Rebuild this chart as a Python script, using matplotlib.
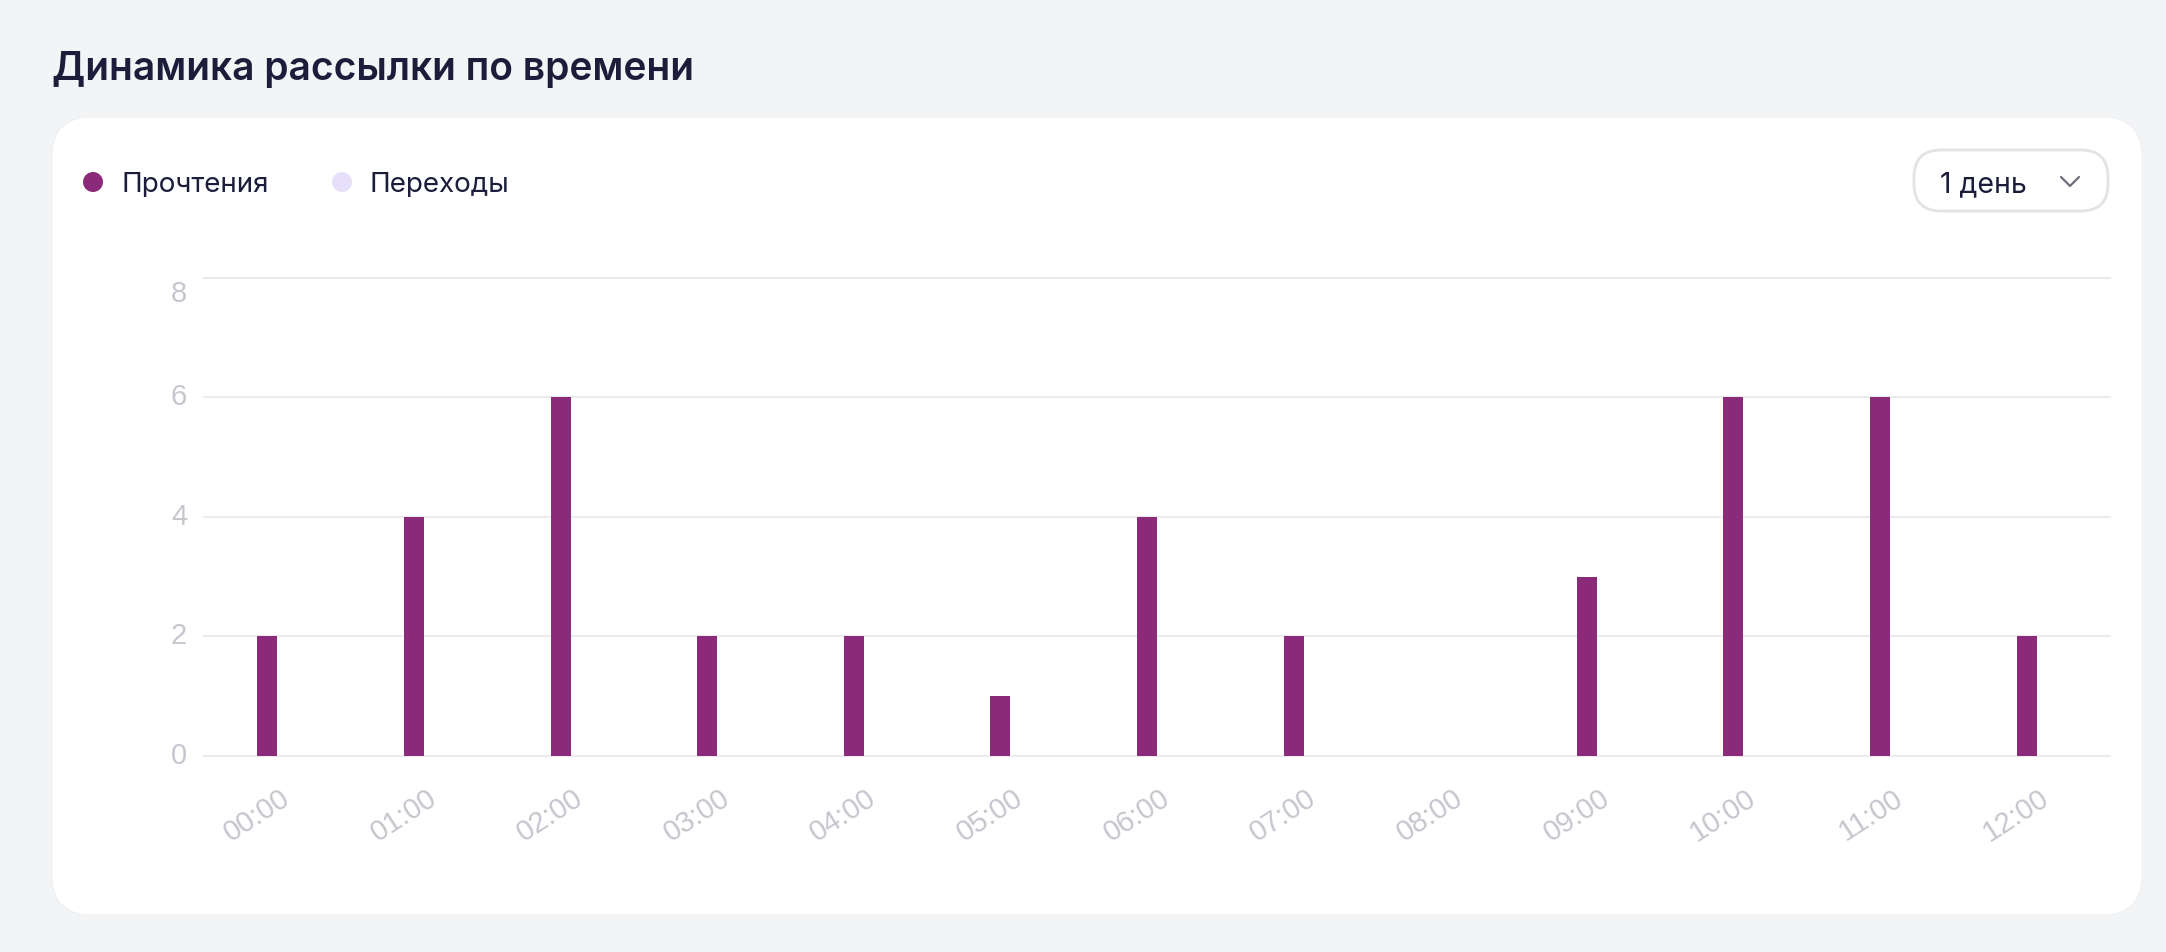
import matplotlib
matplotlib.use("Agg")
import matplotlib.pyplot as plt
from matplotlib.patches import FancyBboxPatch, Circle
from matplotlib.transforms import ScaledTranslation, blended_transform_factory
import numpy as np

# ---------------- data ----------------
title = "Динамика рассылки по времени"
categories = ["00:00", "01:00", "02:00", "03:00", "04:00", "05:00", "06:00",
              "07:00", "08:00", "09:00", "10:00", "11:00", "12:00"]
reads = [2, 4, 6, 2, 2, 1, 4, 2, 0, 3, 6, 6, 2]          # Прочтения
clicks = [0, 0, 0, 0, 0, 0, 0, 0, 0, 0, 0, 0, 0]          # Переходы
series_names = ["Прочтения", "Переходы"]
series_colors = ["#8B2A78", "#E6E0FB"]
period_label = "1 день"
y_ticks = [0, 2, 4, 6, 8]

# ---------------- figure ----------------
W, H = 2166, 952
DPI = 100
fig = plt.figure(figsize=(W / DPI, H / DPI), dpi=DPI)
fig.patch.set_facecolor("#F3F4F6")

# background "pixel" axes
bg = fig.add_axes([0, 0, 1, 1], zorder=0)
bg.set_xlim(0, W)
bg.set_ylim(H, 0)
bg.axis("off")

card = FancyBboxPatch((52, 117), 2090, 798,
                      boxstyle="round,pad=0,rounding_size=40",
                      fc="white", ec="#EDEEF1", lw=0.6)
bg.add_patch(card)

text_color = "#1B1D3A"
bg.text(52, 80, title, fontsize=28, fontweight=600, family=["Inter", "DejaVu Sans"],
        color=text_color, va="baseline", ha="left")

# legend
leg_items = [(93, 121), (342, 370)]
for (cx, tx), name, col in zip(leg_items, series_names, series_colors):
    bg.add_patch(Circle((cx, 182), 10, fc=col, ec="none"))
    bg.text(tx, 192, name, fontsize=20, family=["Inter", "DejaVu Sans"],
            color=text_color, va="baseline", ha="left")

# dropdown
dd = FancyBboxPatch((1914, 150), 194, 61,
                    boxstyle="round,pad=0,rounding_size=27",
                    fc="white", ec="#E2E2E7", lw=2)
bg.add_patch(dd)
bg.text(1940, 192, period_label, fontsize=20.5, family=["Inter", "DejaVu Sans"],
        color=text_color, va="baseline", ha="left")
bg.plot([2061, 2070, 2079], [177, 186, 177], color="#6E6E7C", lw=1.6,
        solid_capstyle="round", solid_joinstyle="round")

# ---------------- chart axes ----------------
ax_left, ax_right = 204, 2110
ax_top, ax_bottom = 277.6, 756
ax = fig.add_axes([ax_left / W, (H - ax_bottom) / H,
                   (ax_right - ax_left) / W, (ax_bottom - ax_top) / H], zorder=1)
ax.set_facecolor("none")

x = np.arange(len(categories))
bw = 20 / ((ax_right - ax_left) / len(categories))
ax.bar(x - bw / 2, reads, bw, color=series_colors[0], zorder=3, label=series_names[0])
ax.bar(x + bw / 2, clicks, bw, color=series_colors[1], zorder=3, label=series_names[1])

ax.set_xlim(-0.5, len(categories) - 0.5)
ax.set_ylim(0, 8)
ax.set_yticks(y_ticks)
ax.set_xticks(x)
ax.set_yticklabels([])
ax.set_xticklabels([])
ax.tick_params(length=0)
for s in ax.spines.values():
    s.set_visible(False)
ax.set_axisbelow(True)
ax.yaxis.grid(True, color="#EBEBEF", lw=1.5)
ax.xaxis.grid(False)
for gl in ax.get_ygridlines():
    gl.set_clip_on(False)

tick_color = "#C6C6CE"
tick_font = ["Liberation Sans", "DejaVu Sans"]

# y labels
ytrans = blended_transform_factory(ax.transAxes, ax.transData)
for v in y_ticks:
    dy = -16 / DPI if v == y_ticks[-1] else 0
    ax.text(0, v, str(v), transform=ytrans + ScaledTranslation(-17 / DPI, dy, fig.dpi_scale_trans),
            ha="right", va="center", fontsize=21, family=tick_font, color=tick_color)

# x labels
xtrans = blended_transform_factory(ax.transData, ax.transAxes)
for i, lab in enumerate(categories):
    ax.text(x[i], 0, lab, transform=xtrans + ScaledTranslation(10 / DPI, -40 / DPI, fig.dpi_scale_trans),
            ha="right", va="center", rotation=33, rotation_mode="anchor",
            fontsize=21, family=tick_font, color=tick_color)

fig.savefig("out.png", dpi=DPI, facecolor=fig.get_facecolor())
